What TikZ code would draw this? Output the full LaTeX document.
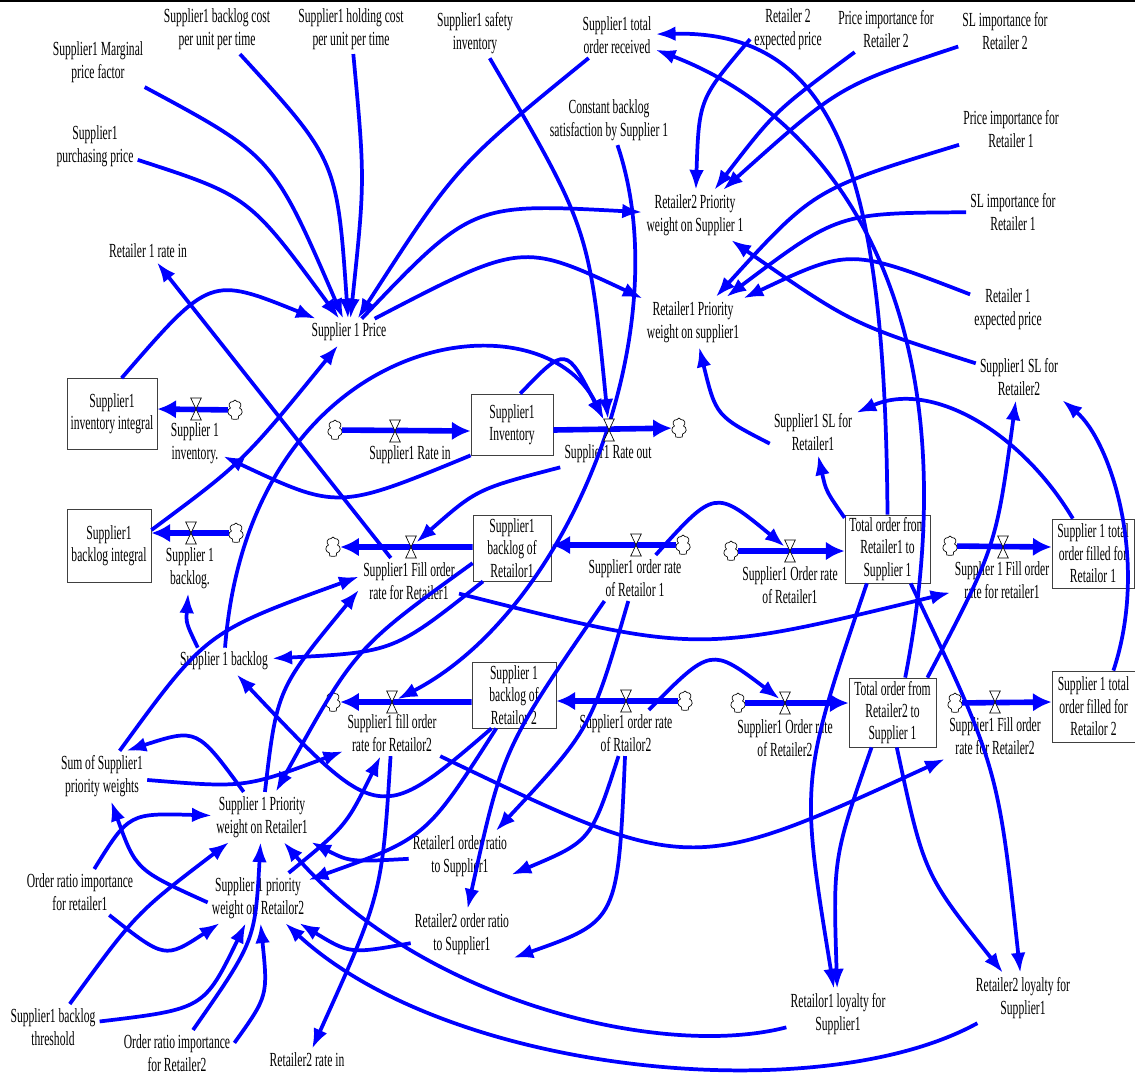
\documentclass[tikz,border=0pt]{standalone}
\usepackage{fontspec}
\setmainfont{Liberation Serif}[FakeStretch=0.58]
\usetikzlibrary{arrows.meta,shapes.symbols}

\begin{document}
\begin{tikzpicture}[x=0.75pt,y=-0.75pt,
  txt/.style={align=center,inner sep=3pt,font=\fontsize{15}{17.6}\selectfont},
  stock/.style={draw=black!75,line width=0.6pt,align=center,inner sep=0pt,font=\fontsize{15}{16.8}\selectfont},
  link/.style={draw=blue,line width=2.8pt,-{Latex[length=15pt,width=11pt]}},
  flow/.style={draw=blue,line width=4.2pt,-{Latex[length=14pt,width=14pt]}},
  src/.style={cloud,cloud puffs=7,cloud ignores aspect,draw=black,line width=0.5pt,inner sep=0pt,minimum width=11pt,minimum height=15pt},
  valve/.style={inner sep=0pt,minimum width=7.5pt,minimum height=16pt}]

\useasboundingbox (0,0) rectangle (1135,1076);
\draw[black,line width=1.2pt] (0,0.8) -- (1135,0.8);

\node[txt] (mpf) at (98,62) {Supplier1 Marginal\\price factor};
\node[txt] (bcost) at (217,29) {Supplier1 backlog cost\\per unit per time};
\node[txt] (hcost) at (351,29) {Supplier1 holding cost\\per unit per time};
\node[txt] (safety) at (475,33) {Supplier1 safety\\inventory};
\node[txt] (tor) at (617,35) {Supplier1 total\\order received};
\node[txt] (r2exp) at (788,29) {Retailer 2\\expected price};
\node[txt] (pi2) at (886,29) {Price importance for\\Retailer 2};
\node[txt] (sl2imp) at (1005,31) {SL importance for\\Retailer 2};
\node[txt] (ppr) at (95,146) {Supplier1\\purchasing price};
\node[txt] (cbs) at (609,120) {Constant backlog\\satisfaction by Supplier 1};
\node[txt] (pi1) at (1011,129) {Price importance for\\Retailer 1};
\node[txt] (r2pw) at (695,215) {Retailer2 Priority\\weight on Supplier 1};
\node[txt] (sl1imp) at (1013,212) {SL importance for\\Retailer 1};
\node[txt] (r1in) at (148,251) {Retailer 1 rate in};
\node[txt] (price) at (349,332) {Supplier 1 Price};
\node[txt] (r1pw) at (693,322) {Retailer1 Priority\\weight on supplier1};
\node[txt] (r1exp) at (1008,309) {Retailer 1\\expected price};
\node[txt] (sl2) at (1019,377) {Supplier1 SL for\\Retailer2};
\node[txt] (sl1) at (813,432) {Supplier1 SL for\\Retailer1};
\node[txt] (blog) at (224,661) {Supplier 1 backlog};
\node[txt] (sum) at (102,776) {Sum of Supplier1\\priority weights};
\node[txt] (pwr1) at (262,817) {Supplier 1 Priority\\weight on Retailer1};
\node[txt] (ori1) at (80,892) {Order ratio importance\\for retailer1};
\node[txt] (pwr2) at (258,898) {Supplier 1 priority\\weight on Retailor2};
\node[txt] (r1ratio) at (460,856) {Retailer1 order ratio\\to Supplier1};
\node[txt] (r2ratio) at (462,934) {Retailer2 order ratio\\to Supplier1};
\node[txt] (thr) at (53,1027) {Supplier1 backlog\\threshold};
\node[txt] (ori2) at (177,1053) {Order ratio importance\\for Retailer2};
\node[txt] (r2in) at (307,1060) {Retailer2 rate in};
\node[txt] (loy1) at (838,1014) {Retailor1 loyalty for\\Supplier1};
\node[txt] (loy2) at (1023,998) {Retailer2 loyalty for\\Supplier1};

\node[stock,minimum width=67.5pt,minimum height=53.25pt] (invint) at (112,414) {Supplier1\\inventory integral};
\node[stock,minimum width=63pt,minimum height=54.75pt] (blint) at (109,545.5) {Supplier1\\backlog integral};
\node[stock,minimum width=61.5pt,minimum height=45.75pt] (inv) at (512,424.5) {Supplier1\\Inventory};
\node[stock,minimum width=58.5pt,minimum height=49.5pt] (bl1) at (512,548) {Supplier1\\backlog of\\Retailor1};
\node[stock,minimum width=63pt,minimum height=49.5pt] (bl2) at (514,695) {Supplier 1\\backlog of\\Retailor 2};
\node[stock,minimum width=63.75pt,minimum height=51pt] (totr1) at (887.5,549) {Total order from\\Retailer1 to\\Supplier 1};
\node[stock,minimum width=65.25pt,minimum height=51.75pt] (totr2) at (892.5,712.5) {Total order from\\Retailer2 to\\Supplier 1};
\node[stock,minimum width=61.5pt,minimum height=51.75pt] (tf1) at (1093,553.5) {Supplier 1 total\\order filled for\\Retailor 1};
\node[stock,minimum width=62.25pt,minimum height=53.25pt] (tf2) at (1093.5,706.5) {Supplier 1 total\\order filled for\\Retailor 2};

\node[txt] (invrate) at (195,443) {Supplier 1\\inventory.};
\node[txt] (blrate) at (190,568) {Supplier 1\\backlog.};
\node[txt] (ratein) at (410,455) {Supplier1 Rate in};
\node[txt] (rateout) at (608,454) {Supplier1 Rate out};
\node[txt] (fill1) at (409,581) {Supplier1 Fill order\\rate for Retailer1};
\node[txt] (ord1) at (635,578) {Supplier1 order rate\\of Retailor 1};
\node[txt] (ordr1) at (790,585) {Supplier1 Order rate\\of Retailer1};
\node[txt] (tfill1) at (1002,580) {Supplier 1 Fill order\\rate for retailer1};
\node[txt] (fill2) at (392,733) {Supplier1 fill order\\rate for Retailor2};
\node[txt] (ord2) at (626,733) {Supplier1 order rate\\of Rtailor2};
\node[txt] (ordr2) at (785,738) {Supplier1 Order rate\\of Retailer2};
\node[txt] (tfill2) at (995,736) {Supplier1 Fill order\\rate for Retailer2};

\node[src] (cinv) at (235,410) {};
\node[valve] (vinv) at (196,409) {};
\node[src] (cbl) at (236,533) {};
\node[valve] (vbl) at (191,533) {};
\node[src] (cin) at (335,430) {};
\node[valve] (vin) at (395,431) {};
\node[valve] (vout) at (609,430) {};
\node[src] (cout) at (679,428) {};
\node[valve] (vf1) at (411,547) {};
\node[src] (cf1) at (333,547) {};
\node[src] (co1) at (683,545) {};
\node[valve] (vo1) at (636,545) {};
\node[src] (cor1) at (731,551) {};
\node[valve] (vor1) at (790,551) {};
\node[src] (ctf1) at (950,546) {};
\node[valve] (vtf1) at (1003,547) {};
\node[valve] (vf2) at (392,702) {};
\node[src] (cf2) at (333,702) {};
\node[src] (co2) at (685,701) {};
\node[valve] (vo2) at (626,701) {};
\node[src] (cor2) at (738,703) {};
\node[valve] (vor2) at (785,703) {};
\node[src] (ctf2) at (955,703) {};
\node[valve] (vtf2) at (995,702) {};

\draw[flow] (cinv) -- (vinv -| invint.east);
\draw[flow] (cbl) -- (vbl -| blint.east);
\draw[flow] (cin) -- (vin -| inv.west);
\draw[flow] (vout -| inv.east) -- (cout);
\draw[flow] (vf1 -| bl1.west) -- (cf1);
\draw[flow] (co1) -- (vo1 -| bl1.east);
\draw[flow] (cor1) -- (vor1 -| totr1.west);
\draw[flow] (ctf1) -- (vtf1 -| tf1.west);
\draw[flow] (vf2 -| bl2.west) -- (cf2);
\draw[flow] (co2) -- (vo2 -| bl2.east);
\draw[flow] (cor2) -- (vor2 -| totr2.west);
\draw[flow] (ctf2) -- (vtf2 -| tf2.west);

\draw[link] (mpf) .. controls (273,156) .. (price);
\draw[link] (bcost) .. controls (337,160) .. (price);
\draw[link] (hcost) .. controls (365,180) .. (price);
\draw[link] (tor) .. controls (456,166) .. (price);
\draw[link] (ppr) .. controls (249,196) .. (price);
\draw[link] (invint.75) .. controls (210,276) .. (price);
\draw[link] (blint.20) .. controls (243,462) .. (price);

\draw[link] (price) .. controls (472,203) .. (r2pw);
\draw[link] (price) .. controls (522,242) .. (r1pw);
\draw[link] (r2exp.195) .. controls (699,99) .. (r2pw);
\draw[link] (pi2) .. controls (775,111) .. (r2pw);
\draw[link] (sl2imp) .. controls (839,86) .. (r2pw);
\draw[link] (sl2) .. controls (852,324) .. (r2pw);
\draw[link] (pi1) .. controls (814,189) .. (r1pw);
\draw[link] (sl1imp) .. controls (838,213) .. (r1pw);
\draw[link] (r1exp) .. controls (850,248) .. (r1pw);
\draw[link] (sl1.195) .. controls (716,416) .. (r1pw);

\draw[link] (totr1.north) .. controls (885,180) and (840,30) .. (tor);
\draw[link] (totr2.70) .. controls (975,320) and (840,120) .. (tor);
\draw[link] (tf1.120) .. controls (1020,430) and (930,380) .. (sl1);
\draw[link] (totr1.144) .. controls (826,491) .. (sl1);
\draw[link] (totr2.45) .. controls (996,547) .. (sl2);
\draw[link] (tf2.61) .. controls (1150,560) and (1110,440) .. (sl2.south east);

\draw[link] (inv.south west) .. controls (338,510) .. (invrate);
\draw[link] (inv.75) .. controls (566,346) .. (vout);
\draw[link] (blog) .. controls (250,330) and (540,290) .. (vout);
\draw[link] (safety) .. controls (589,228) .. (vout);
\draw[link] (cbs) .. controls (680,330) and (570,610) .. (vf2);
\draw[link] (rateout.south west) .. controls (477,489) .. (vf1);
\draw[link] (fill1) -- (r1in);
\draw[link] (blog.153) .. controls (186,623) .. (blrate);
\draw[link] (bl1.229) .. controls (394,652) .. (blog);
\draw[link] (bl2.236) .. controls (379,825) .. (blog);
\draw[link] (bl1.201) .. controls (355,648) .. (pwr1);
\draw[link] (pwr1) .. controls (277,689) .. (fill1.190);
\draw[link] (sum.55) .. controls (206,632) .. (fill1.175);
\draw[link] (sum.-5) .. controls (245,788) .. (fill2);
\draw[link] (pwr1) .. controls (197,728) .. (sum.46);
\draw[link] (pwr2.185) .. controls (136,870) .. (sum);
\draw[link] (ori1) .. controls (129,813) .. (pwr1);
\draw[link] (ori1) .. controls (165,959) .. (pwr2);
\draw[link] (thr) .. controls (136,913) .. (pwr1);
\draw[link] (thr) .. controls (204,1009) .. (pwr2);
\draw[link] (ori2) .. controls (255,941) .. (pwr1);
\draw[link] (ori2.10) .. controls (268,996) .. (pwr2);
\draw[link] (fill2) .. controls (382,894) .. (r2in);
\draw[link] (pwr2) .. controls (346,826) .. (fill2);
\draw[link] (bl2.242) .. controls (426,838) .. (pwr2);
\draw[link] (r1ratio) .. controls (350,862) .. (pwr1);
\draw[link] (r2ratio) .. controls (350,954) .. (pwr2);
\draw[link] (loy1) .. controls (660,1060) and (420,1000) .. (pwr1);
\draw[link] (loy2) .. controls (820,1110) and (450,1075) .. (pwr2);

\draw[link] (ord1) .. controls (591,729) .. (r1ratio.35);
\draw[link] (ord1.217) .. controls (503,748) .. (r2ratio);
\draw[link] (ord2) .. controls (591,841) .. (r1ratio.-20);
\draw[link] (ord2) .. controls (618,921) .. (r2ratio.-25);
\draw[link] (ord1) .. controls (715,489) .. (vor1);
\draw[link] (ord2) .. controls (711,647) .. (vor2);
\draw[link] (totr1.239) .. controls (800,780) .. (loy1);
\draw[link] (totr2.239) .. controls (833,858) .. (loy1);
\draw[link] (totr2.-83) .. controls (924,874) .. (loy2);
\draw[link] (totr1.-56) .. controls (998,767) .. (loy2);
\draw[link] (fill1) .. controls (698,654) .. (tfill1);
\draw[link] (fill2) .. controls (690,876) .. (tfill2);

\foreach \v in {vinv,vbl,vin,vout,vf1,vo1,vor1,vtf1,vf2,vo2,vor2,vtf2}
  \draw[black,fill=white,line width=0.5pt] (\v.north west) -- (\v.north east) -- (\v.south west) -- (\v.south east) -- cycle;
\end{tikzpicture}
\end{document}
